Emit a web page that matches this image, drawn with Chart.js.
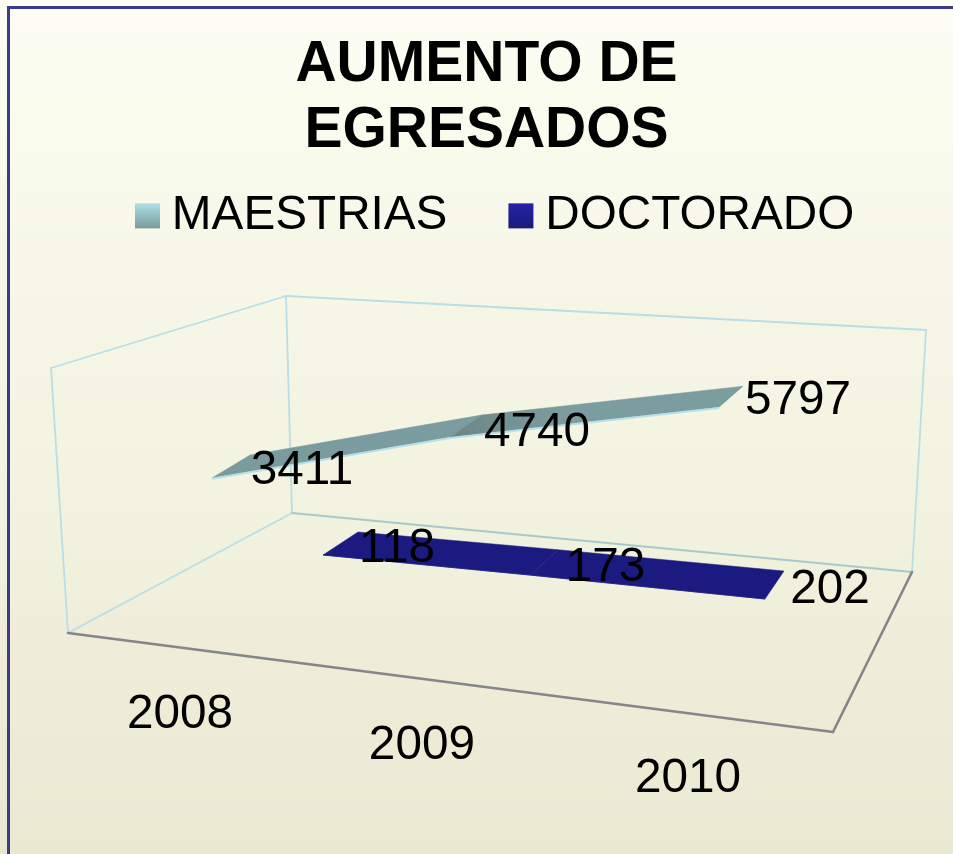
<!DOCTYPE html>
<html>
<head>
<meta charset="utf-8">
<style>
html,body{margin:0;padding:0;width:953px;height:854px;overflow:hidden;
background:linear-gradient(180deg,#fdfdf4 0%,#fafcee 12%,#f6f7e8 30%,#f3f4e2 50%,#f0f1dd 68%,#f0ecd9 75%,#ecebd5 90%,#e9e8d1 100%);}
#frame{position:absolute;left:7px;top:6px;width:960px;height:870px;border-left:3px solid #3a3a8e;border-top:3px solid #3a3a8e;}
#c{position:absolute;left:0;top:0;}
</style>
<script src="https://cdn.jsdelivr.net/npm/chart.js@4"></script>
</head>
<body>
<div id="frame"></div>
<canvas id="c" width="953" height="854"></canvas>
<script>
// ---- data ----
const categories = ['2008', '2009', '2010'];
const maestrias = [3411, 4740, 5797];
const doctorado = [118, 173, 202];
const seriesNames = ['MAESTRIAS', 'DOCTORADO'];
const titleLines = ['AUMENTO DE', 'EGRESADOS'];
const yMax = 7000;

// ---- 3D look: layout constants of the oblique view ----
const VALUE_HEIGHT = 256;     // screen height of the full value axis
const PERSPECTIVE = 1.13;     // categories spread out towards the viewer
const TICK_PERSPECTIVE = 1.10;
const TEXT_DROP = 3;          // optical centring of digits
const PLANES = [
  { start:[212,602.8], end:[719,619.2], depthStart:[38,-23], depthEnd:[24,-21],
    labelOffset:[[90,-10],[87,-7],[79,-9]],
    fill:['#7a9b9e','#7c9d9f'], shade:'#6c8587', edge:'#b7e0e7', edgeWidth:2, edgeDrop:0.8 },
  { start:[323,559.3], end:[765,606.4], depthStart:[35,-23], depthEnd:[19,-28],
    labelOffset:[[74,-9],[75,-10],[65,-12]],
    fill:['#1b1a80','#1b1a80'], shade:'#1b1a80', edge:'#1b1a80', edgeWidth:0.8, edgeDrop:0 }
];
const WALL = {
  frontLeft:[68,633], frontLeftTop:[51,368], backLeft:[292,513], backLeftTop:[286,296],
  backRight:[912,572], backRightTop:[926,330], frontRight:[833,732]
};
const TICK_START = [180,712], TICK_END = [688,776];
const SWATCHES = [['#aee1e7','#7a999d'],['#2423a9','#1a1a76']];
const FONT_SIZE = 47.7;
const FONT = 'Liberation Sans, Arial, sans-serif';

function warp(t, q){ return t / (t + (1 - t) * q); }
function catRatio(chart, x){
  const s = chart.scales.x;
  const a = s.getPixelForTick(0), b = s.getPixelForTick(categories.length - 1);
  return (x - a) / (b - a);
}
function lerp(a,b,t){ return a + (b - a) * t; }

// project a scale-computed element position on to its oblique series plane
function project(chart, plane, el){
  const area = chart.chartArea;
  const t = warp(catRatio(chart, el.x), PERSPECTIVE);
  const rise = (area.bottom - el.y) / (area.bottom - area.top) * VALUE_HEIGHT;
  const fx = lerp(plane.start[0], plane.end[0], t);
  const fy = lerp(plane.start[1], plane.end[1], t) - rise;
  const dx = lerp(plane.depthStart[0], plane.depthEnd[0], t);
  const dy = lerp(plane.depthStart[1], plane.depthEnd[1], t);
  return { fx, fy, bx: fx + dx, by: fy + dy };
}

function line(ctx, a, b, color, w){
  ctx.strokeStyle = color; ctx.lineWidth = w;
  ctx.beginPath(); ctx.moveTo(a[0],a[1]); ctx.lineTo(b[0],b[1]); ctx.stroke();
}

const ribbonPlugin = {
  id: 'ribbon3d',
  beforeDatasetsDraw(chart){
    const ctx = chart.ctx, W = WALL, blue = '#b9dee7';
    ctx.save();
    ctx.lineCap = 'round';
    line(ctx, W.frontLeft, W.frontLeftTop, blue, 1.8);
    line(ctx, W.frontLeftTop, W.backLeftTop, blue, 1.8);
    line(ctx, W.backLeftTop, W.backLeft, blue, 1.8);
    line(ctx, W.backLeftTop, W.backRightTop, blue, 1.8);
    line(ctx, W.backRightTop, W.backRight, blue, 1.8);
    line(ctx, W.frontLeft, W.backLeft, blue, 1.8);
    line(ctx, W.backLeft, W.backRight, '#a9c8cc', 1.8);
    line(ctx, W.frontLeft, W.frontRight, '#85858a', 2.6);
    line(ctx, W.frontRight, W.backRight, '#85858a', 2.6);
    ctx.restore();
  },
  beforeDatasetDraw(chart, args){
    const ctx = chart.ctx, plane = PLANES[args.index];
    const pts = chart.getDatasetMeta(args.index).data.map(el => project(chart, plane, el));
    ctx.save();
    for (let i = 0; i < pts.length - 1; i++){
      const p = pts[i], q = pts[i + 1];
      const g = ctx.createLinearGradient(p.fx, 0, q.bx, 0);
      g.addColorStop(0, i ? plane.shade : plane.fill[0]);
      g.addColorStop(i ? 0.38 : 1, plane.fill[1]);
      if (i) g.addColorStop(1, plane.fill[1]);
      ctx.fillStyle = g;
      ctx.strokeStyle = g;
      ctx.lineWidth = 0.5;
      ctx.beginPath();
      ctx.moveTo(p.fx, p.fy); ctx.lineTo(q.fx, q.fy);
      ctx.lineTo(q.bx, q.by); ctx.lineTo(p.bx, p.by);
      ctx.closePath(); ctx.fill(); ctx.stroke();
    }
    // lower edge of the ribbon
    ctx.strokeStyle = plane.edge; ctx.lineWidth = plane.edgeWidth;
    ctx.beginPath();
    pts.forEach((p, i) => i ? ctx.lineTo(p.fx, p.fy + plane.edgeDrop) : ctx.moveTo(p.fx, p.fy + plane.edgeDrop));
    ctx.stroke();
    ctx.restore();
    return false;
  },
  afterDatasetsDraw(chart){
    const ctx = chart.ctx;
    ctx.save();
    ctx.font = FONT_SIZE + 'px ' + FONT;
    ctx.fillStyle = '#000';
    ctx.textAlign = 'center';
    ctx.textBaseline = 'middle';
    // value labels
    chart.data.datasets.forEach((ds, di) => {
      const plane = PLANES[di];
      chart.getDatasetMeta(di).data.forEach((el, i) => {
        const p = project(chart, plane, el);
        ctx.fillText(String(ds.data[i]), p.fx + plane.labelOffset[i][0], p.fy + plane.labelOffset[i][1] + TEXT_DROP);
      });
    });
    // category labels along the floor edge
    const s = chart.scales.x;
    s.getLabels().forEach((lab, i) => {
      const t = warp(catRatio(chart, s.getPixelForTick(i)), TICK_PERSPECTIVE);
      ctx.fillText(lab, lerp(TICK_START[0], TICK_END[0], t), lerp(TICK_START[1], TICK_END[1], t) + TEXT_DROP);
    });
    // legend swatches next to the legend text
    const boxes = chart.legend.legendHitBoxes;
    boxes.forEach((b, i) => {
      const x = b.left + 49, y = b.top + b.height / 2 - 12;
      const g = ctx.createLinearGradient(0, y, 0, y + 25);
      g.addColorStop(0, SWATCHES[i][0]); g.addColorStop(1, SWATCHES[i][1]);
      ctx.fillStyle = g;
      ctx.fillRect(x, y, 25, 25);
    });
    ctx.restore();
  }
};

new Chart(document.getElementById('c'), {
  type: 'line',
  data: {
    labels: categories,
    datasets: [
      { label: seriesNames[0], data: maestrias, borderColor: '#7a9b9e', backgroundColor: '#7a9b9e' },
      { label: seriesNames[1], data: doctorado, borderColor: '#1b1a80', backgroundColor: '#1b1a80' }
    ]
  },
  plugins: [ribbonPlugin],
  options: {
    responsive: false,
    animation: false,
    layout: { padding: { left: 74, right: 54, top: 33, bottom: 20 } },
    scales: {
      x: { type: 'category', offset: true, display: false },
      y: { type: 'linear', min: 0, max: yMax, display: false }
    },
    plugins: {
      title: {
        display: true,
        text: titleLines,
        color: '#000',
        font: { family: FONT, size: 57, weight: 'bold', lineHeight: 1.145 },
        padding: { top: 0, bottom: 16 }
      },
      legend: {
        display: true,
        position: 'top',
        align: 'start',
        onClick: null,
        labels: {
          color: '#000',
          font: { family: FONT, size: FONT_SIZE },
          boxWidth: 62,
          boxHeight: 25,
          padding: 12,
          generateLabels(chart){
            return Chart.defaults.plugins.legend.labels.generateLabels(chart).map(it =>
              Object.assign(it, { fillStyle: 'rgba(0,0,0,0)', strokeStyle: 'rgba(0,0,0,0)', lineWidth: 0 }));
          }
        }
      },
      tooltip: { enabled: false }
    }
  }
});
</script>
</body>
</html>
